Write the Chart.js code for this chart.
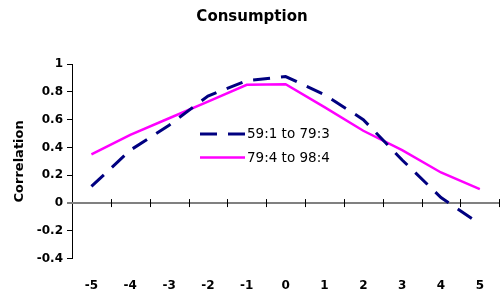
<!DOCTYPE html>
<html>
<head>
<meta charset="utf-8">
<script src="https://cdn.jsdelivr.net/npm/chart.js@4.4.1/dist/chart.umd.min.js"></script>
<style>
	html, body { margin: 0; padding: 0; background: #fff; }
	#wrap { width: 504px; height: 299px; }
</style>
</head>
<body>
<div id="wrap"><canvas id="chart" width="504" height="299"></canvas></div>
<script>
// lags, -5 .. 5
const lags = ['-5', '-4', '-3', '-2', '-1', '0', '1', '2', '3', '4', '5'];
// 59:1 to 79:3 (dashed navy)
const early = [0.12, 0.38, 0.56, 0.77, 0.88, 0.91, 0.78, 0.60, 0.31, 0.04, -0.15];
// 79:4 to 98:4 (magenta)
const late = [0.35, 0.49, 0.61, 0.73, 0.85, 0.855, 0.69, 0.52, 0.38, 0.22, 0.10];
const seriesNames = ['59:1 to 79:3', '79:4 to 98:4'];

const NAVY = '#000080';
const MAGENTA = '#ff00ff';
const DASH = [17, 11];

// axis line through zero, with tick marks between the categories
const zeroAxis = {
	id: 'zeroAxis',
	beforeDatasetsDraw(chart) {
		const { ctx, chartArea, scales: { x, y } } = chart;
		const y0 = y.getPixelForValue(0);
		const step = x.getPixelForValue(1) - x.getPixelForValue(0);
		const start = x.getPixelForValue(0) - step / 2;
		ctx.save();
		ctx.strokeStyle = '#808080';
		ctx.lineWidth = 2;
		ctx.beginPath();
		ctx.moveTo(chartArea.left - 5, y0);
		ctx.lineTo(chartArea.right, y0);
		ctx.stroke();
		ctx.strokeStyle = '#000';
		ctx.lineWidth = 1;
		for (let i = 1; i <= lags.length; i++) {
			const px = Math.round(start + i * step) + 0.5;
			ctx.beginPath();
			ctx.moveTo(px, y0 - 4);
			ctx.lineTo(px, y0 + 4);
			ctx.stroke();
		}
		ctx.restore();
	}
};

// legend box sits inside the plot
const innerLegend = {
	id: 'innerLegend',
	afterDraw(chart) {
		const { ctx, chartArea } = chart;
		const x0 = chartArea.left + 128;
		const rows = [chartArea.top + 70, chartArea.top + 93.5];
		const styles = [
			{ color: NAVY, width: 3, dash: DASH },
			{ color: MAGENTA, width: 2.5, dash: [] }
		];
		ctx.save();
		ctx.font = '13.5px "DejaVu Sans"';
		ctx.textBaseline = 'middle';
		ctx.fillStyle = '#000';
		rows.forEach((ry, i) => {
			ctx.strokeStyle = styles[i].color;
			ctx.lineWidth = styles[i].width;
			ctx.setLineDash(styles[i].dash);
			ctx.beginPath();
			ctx.moveTo(x0, ry);
			ctx.lineTo(x0 + 45, ry);
			ctx.stroke();
			ctx.setLineDash([]);
			ctx.fillText(seriesNames[i], x0 + 47, ry + 0.5);
		});
		ctx.restore();
	}
};

const ctx = document.getElementById('chart').getContext('2d');

new Chart(ctx, {
	type: 'line',
	data: {
		labels: lags,
		datasets: [
			{
				label: seriesNames[0],
				data: early,
				borderColor: NAVY,
				borderWidth: 3,
				borderDash: DASH,
				pointRadius: 0,
				tension: 0,
				fill: false
			},
			{
				label: seriesNames[1],
				data: late,
				borderColor: MAGENTA,
				borderWidth: 2.5,
				pointRadius: 0,
				tension: 0,
				fill: false
			}
		]
	},
	options: {
		responsive: false,
		animation: false,
		devicePixelRatio: 1,
		layout: { padding: { left: 0, right: 0, top: 0, bottom: 0 } },
		plugins: {
			legend: { display: false },
			tooltip: { enabled: false },
			title: {
				display: true,
				text: 'Consumption',
				color: '#000',
				font: { family: 'DejaVu Sans', size: 15, weight: 'bold' },
				padding: { top: 8.5, bottom: 37.5 }
			}
		},
		scales: {
			x: {
				offset: true,
				grid: { display: false, drawTicks: false },
				border: { display: false },
				ticks: {
					color: '#000',
					font: { family: 'DejaVu Sans', size: 12, weight: 'bold' },
					padding: 20,
					maxRotation: 0,
					autoSkip: false
				},
				afterFit(scale) { scale.height = 40.3; }
			},
			y: {
				min: -0.4,
				max: 1,
				grid: { drawOnChartArea: false, color: '#000', tickLength: 5 },
				border: { color: '#000', width: 1 },
				ticks: {
					stepSize: 0.2,
					color: '#000',
					padding: 4,
					font: { family: 'DejaVu Sans', size: 12, weight: 'bold' },
					callback: (v) => String(Math.round(v * 10) / 10)
				},
				title: {
					display: true,
					text: 'Correlation',
					color: '#000',
					font: { family: 'DejaVu Sans', size: 13, weight: 'bold' },
					padding: { top: 12, bottom: 0 }
				},
				afterFit(scale) { scale.width = 72; }
			}
		}
	},
	plugins: [zeroAxis, innerLegend]
});
</script>
</body>
</html>
